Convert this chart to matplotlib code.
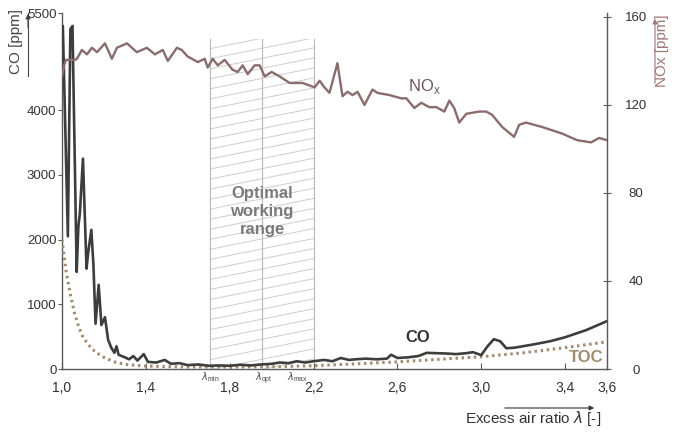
import numpy as np
import matplotlib.pyplot as plt
from matplotlib.patches import Rectangle

plt.rcParams['font.family'] = ['Liberation Sans Narrow', 'Liberation Sans', 'DejaVu Sans']

# CO concentration vs excess air ratio
co_lam = [1.000, 1.004, 1.028, 1.040, 1.050, 1.070, 1.078, 1.085, 1.100, 1.117,
          1.125, 1.140, 1.150, 1.160, 1.175, 1.188, 1.205, 1.220, 1.235, 1.250,
          1.260, 1.270, 1.300, 1.320, 1.340, 1.360, 1.390, 1.410, 1.450, 1.490,
          1.520, 1.560, 1.600, 1.650, 1.700, 1.750, 1.800, 1.850, 1.900, 1.950,
          2.000, 2.040, 2.080, 2.120, 2.160, 2.200, 2.250, 2.290, 2.330, 2.370,
          2.400, 2.450, 2.500, 2.550, 2.570, 2.600, 2.650, 2.700, 2.740, 2.780,
          2.830, 2.880, 2.930, 2.960, 3.000, 3.030, 3.060, 3.090, 3.120, 3.160,
          3.250, 3.330, 3.400, 3.500, 3.600]
co_ppm = [5300, 5300, 2050, 5250, 5300, 1500, 2200, 2400, 3250, 1550,
          1800, 2150, 1600, 700, 1300, 680, 800, 450, 330, 250,
          350, 220, 180, 150, 200, 130, 230, 110, 100, 140,
          80, 90, 60, 70, 50, 55, 50, 65, 55, 70,
          80, 100, 90, 120, 100, 120, 140, 120, 170, 140,
          150, 160, 150, 160, 220, 170, 180, 200, 250, 245,
          240, 230, 245, 260, 215, 350, 460, 430, 320, 330,
          380, 430, 490, 600, 740]

# TOC (dotted)
toc_lam = [1.00, 1.02, 1.04, 1.06, 1.08, 1.10, 1.13, 1.16, 1.20, 1.25, 1.30,
           1.40, 1.60, 1.80, 2.00, 2.20, 2.40, 2.60, 2.80, 3.00, 3.20, 3.40, 3.60]
toc_ppm = [2000, 1500, 1150, 860, 650, 490, 360, 260, 180, 110, 70,
           45, 30, 30, 35, 50, 80, 110, 150, 190, 250, 330, 420]

# NOx on the right axis
nox_lam = [1.000, 1.010, 1.019, 1.062, 1.071, 1.095, 1.119, 1.143, 1.167, 1.205,
           1.238, 1.262, 1.310, 1.357, 1.405, 1.443, 1.481, 1.505, 1.548, 1.571,
           1.600, 1.648, 1.681, 1.695, 1.719, 1.743, 1.776, 1.814, 1.838, 1.862,
           1.886, 1.919, 1.943, 1.967, 2.000, 2.038, 2.086, 2.148, 2.205, 2.229,
           2.252, 2.276, 2.314, 2.338, 2.362, 2.386, 2.410, 2.443, 2.481, 2.505,
           2.562, 2.619, 2.643, 2.681, 2.714, 2.752, 2.786, 2.824, 2.848, 2.871,
           2.895, 2.929, 2.990, 3.024, 3.052, 3.100, 3.157, 3.181, 3.214, 3.290,
           3.386, 3.457, 3.524, 3.562, 3.600]
nox_ppm = [133, 138, 140.5, 140.5, 141, 145, 143, 146, 144, 148,
           141, 146, 148, 144, 146, 143, 145, 140, 146, 145,
           142, 139.5, 141, 137, 141, 138, 140.5, 136, 135, 138,
           134, 138, 138, 133, 135, 133, 130, 130, 128, 131,
           128, 125.5, 139, 124, 126, 124.5, 126, 120, 127, 125.5,
           124.5, 123, 123, 118.6, 121, 119, 119, 117, 122, 118.6,
           112, 116, 117, 117, 115.5, 110, 105.5, 111, 112, 110,
           107, 104, 103, 105, 104]

# optimal working range: lambda_min, lambda_opt, lambda_max
opt_range = [1.705, 1.955, 2.2]
opt_top = 5100
lam_label_x = [1.71, 1.962, 2.125]
lam_label_sub = ['min', 'opt', 'max']

x_ticks = [1.0, 1.4, 1.8, 2.2, 2.6, 3.0, 3.4, 3.6]
x_labels = ['1,0', '1,4', '1,8', '2,2', '2,6', '3,0', '3,4', '3,6']
co_ticks = [0, 1000, 2000, 3000, 4000, 5500]
nox_ticks = [0, 40, 80, 120, 160]

c_co = '#3d3d3d'
c_nox = '#8a6c6c'
c_toc = '#a08a70'
c_axis = '#5a5a5a'

fig = plt.figure(figsize=(6.74, 4.32), dpi=100)
ax = fig.add_axes([62/674, 1 - 369/432, 545/674, 356/432])
ax2 = ax.twinx()

# hatched range
x0, xm, x1 = opt_range
clip = Rectangle((x0, 0), x1 - x0, opt_top, transform=ax.transData,
                 facecolor='none', edgecolor='none')
ax.add_patch(clip)
k = 650
for c in np.arange(-k * (x1 - x0), opt_top + 200, 155):
    hl, = ax.plot([x0, x1], [c, c + k * (x1 - x0)], color='#cdcdcd', lw=0.7, zorder=1)
    hl.set_clip_path(clip)
for xv in opt_range:
    ax.plot([xv, xv], [0, opt_top], color='#bdbdbd', lw=0.9, zorder=1)

ax.text(xm, 2430, 'Optimal\nworking\nrange', ha='center', va='center', fontsize=12,
        fontweight='bold', color='#7a7a7a', linespacing=1.25, zorder=2)

ax.plot(toc_lam, toc_ppm, color=c_toc, lw=2.2, linestyle=(0, (0.8, 1.2)), zorder=3)
ax.plot(co_lam, co_ppm, color=c_co, lw=1.9, zorder=4, solid_joinstyle='round')
ax2.plot(nox_lam, nox_ppm, color=c_nox, lw=1.7, zorder=4, solid_joinstyle='round')

ax.set_xlim(1.0, 3.6)
ax.set_ylim(0, 5500)
ax2.set_ylim(0, 161.8)

ax.set_xticks(x_ticks)
ax.set_xticklabels(x_labels)
ax.set_yticks(co_ticks)
ax2.set_yticks(nox_ticks)

for a in (ax, ax2):
    a.spines['top'].set_visible(False)
    for s in ('left', 'right', 'bottom'):
        a.spines[s].set_color(c_axis)
        a.spines[s].set_linewidth(1.0)
ax.spines['right'].set_visible(False)
ax2.spines['left'].set_visible(False)
ax2.spines['bottom'].set_visible(False)

ax.tick_params(axis='x', direction='in', length=4, width=0.8, color=c_axis,
               labelsize=10, labelcolor='#333333', pad=9)
ax.tick_params(axis='y', direction='out', length=3, width=0.8, color=c_axis,
               labelsize=9.5, labelcolor='#333333', pad=1)
ax2.tick_params(axis='y', direction='inout', length=6, width=0.8, color=c_axis,
                labelsize=9.5, labelcolor='#333333', pad=18)
for lab in ax2.get_yticklabels():
    lab.set_horizontalalignment('center')

# lambda markers under the axis
for xv, sub in zip(lam_label_x, lam_label_sub):
    ax.text(xv, -20, r'$\lambda_{\mathregular{%s}}$' % sub,
            ha='center', va='top', fontsize=7, color='#444444')

# series labels
ax.text(2.695, 480, 'CO', fontsize=12, fontweight='bold', color='#333333', ha='center', va='center')
ax2.text(2.73, 128.5, r'NO$_\mathregular{x}$', fontsize=12, color='#6e5656', ha='center', va='center')
ax.text(3.5, 170, 'TOC', fontsize=12, fontweight='bold', color=c_toc, ha='center', va='center')

# axis titles with arrows
fig.text(16/674, 1 - 42/432, 'CO [ppm]', rotation=90, ha='center', va='center',
         fontsize=11, color='#444444')
fig.add_artist(plt.Line2D([28/674, 28/674], [1 - 76/432, 1 - 13/432], color='#444444', lw=0.8))
fig.text(662/674, 1 - 51/432, 'NOx [ppm]', rotation=90, ha='center', va='center',
         fontsize=11, color='#a07575')
ax2.annotate('', xy=(655/674, 1 - 16/432), xytext=(655/674, 1 - 86/432),
             xycoords='figure fraction', textcoords='figure fraction',
             arrowprops=dict(arrowstyle='-|>', color='#a07575', lw=0.8, mutation_scale=7))
ax.annotate('', xy=(28/674, 1 - 11/432), xytext=(28/674, 1 - 30/432),
            xycoords='figure fraction', textcoords='figure fraction',
            arrowprops=dict(arrowstyle='-|>', color='#444444', lw=0.8, mutation_scale=7))
fig.text(533/674, 1 - 418/432, r'Excess air ratio $\lambda$ [-]', ha='center', va='center',
         fontsize=11, color='#333333')
ax.annotate('', xy=(597/674, 1 - 408/432), xytext=(502/674, 1 - 408/432),
            xycoords='figure fraction', textcoords='figure fraction',
            arrowprops=dict(arrowstyle='-|>', color='#333333', lw=0.8, mutation_scale=7))

fig.savefig('out.png', dpi=100)
